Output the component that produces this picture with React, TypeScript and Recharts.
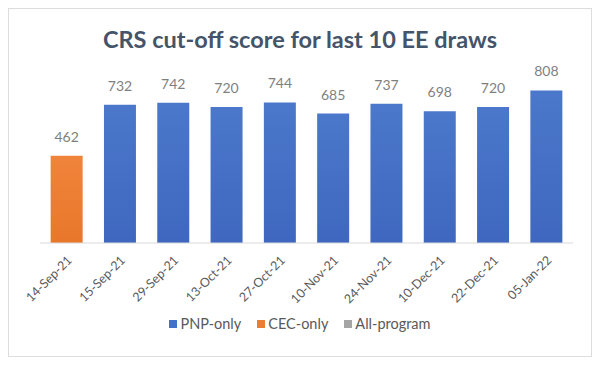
import { Bar, BarChart, Cell, LabelList, XAxis, YAxis } from "recharts";

const drawDates = [
  "14-Sep-21",
  "15-Sep-21",
  "29-Sep-21",
  "13-Oct-21",
  "27-Oct-21",
  "10-Nov-21",
  "24-Nov-21",
  "10-Dec-21",
  "22-Dec-21",
  "05-Jan-22",
];
const cutoffScores = [462, 732, 742, 720, 744, 685, 737, 698, 720, 808];
const drawPrograms = ["CEC", "PNP", "PNP", "PNP", "PNP", "PNP", "PNP", "PNP", "PNP", "PNP"];

const programs = [
  { key: "PNP", label: "PNP-only", color: "#4472C4" },
  { key: "CEC", label: "CEC-only", color: "#ED7D31" },
  { key: "ALL", label: "All-program", color: "#A5A5A5" },
];

const data = drawDates.map((date, i) => ({
  date,
  score: cutoffScores[i],
  program: drawPrograms[i],
}));

const FONT = "Lato, 'Open Sans', sans-serif";

function fillFor(program: string) {
  if (program === "CEC") return "url(#orangeFill)";
  if (program === "PNP") return "url(#blueFill)";
  return programs.find((p) => p.key === program)?.color ?? "#A5A5A5";
}

function DateTick(props: any) {
  const { x, y, payload } = props;
  return (
    <text
      x={x + 6}
      y={y + 10}
      textAnchor="end"
      fill="#595959"
      fontSize={12.5}
      fontFamily={FONT}
      transform={`rotate(-45, ${x + 6}, ${y + 10})`}
    >
      {payload.value}
    </text>
  );
}

function LegendRow() {
  return (
    <div
      style={{
        position: "absolute",
        top: 306,
        left: 0,
        width: 582,
        display: "flex",
        justifyContent: "center",
        gap: 16,
        fontFamily: FONT,
        fontSize: 14.5,
        color: "#595959",
      }}
    >
      {programs.map((p) => (
        <div key={p.key} style={{ display: "flex", alignItems: "center", gap: 3 }}>
          <span style={{ width: 8, height: 8, background: p.color, display: "inline-block" }} />
          <span>{p.label}</span>
        </div>
      ))}
    </div>
  );
}

export default function App() {
  return (
    <div
      style={{
        position: "relative",
        width: 584,
        height: 349,
        border: "1px solid #dcdcdc",
        boxSizing: "border-box",
        background: "#fff",
      }}
    >
      <div
        style={{
          position: "absolute",
          top: 16,
          left: 0,
          width: 582,
          textAlign: "center",
          fontFamily: FONT,
          fontSize: 23.5,
          fontWeight: 700,
          color: "#44546A",
        }}
      >
        CRS cut-off score for last 10 EE draws
      </div>
      <BarChart
        width={582}
        height={347}
        data={data}
        margin={{ top: 64, right: 18, bottom: 0, left: 31 }}
        barCategoryGap="20%"
      >
        <defs>
          <linearGradient id="blueFill" x1="0" y1="0" x2="0" y2="1">
            <stop offset="0%" stopColor="#4B78CB" />
            <stop offset="100%" stopColor="#3F67BF" />
          </linearGradient>
          <linearGradient id="orangeFill" x1="0" y1="0" x2="0" y2="1">
            <stop offset="0%" stopColor="#F0843B" />
            <stop offset="100%" stopColor="#E8772A" />
          </linearGradient>
        </defs>
        <YAxis hide domain={[0, 900]} />
        <XAxis
          dataKey="date"
          interval={0}
          height={113}
          tickLine={false}
          axisLine={{ stroke: "#d9d9d9" }}
          tick={<DateTick />}
        />
        <Bar dataKey="score" isAnimationActive={false}>
          {data.map((d) => (
            <Cell key={d.date} fill={fillFor(d.program)} />
          ))}
          <LabelList
            dataKey="score"
            position="top"
            offset={14}
            fill="#7f7f7f"
            fontSize={14}
            fontFamily={FONT}
          />
        </Bar>
      </BarChart>
      <LegendRow />
    </div>
  );
}
